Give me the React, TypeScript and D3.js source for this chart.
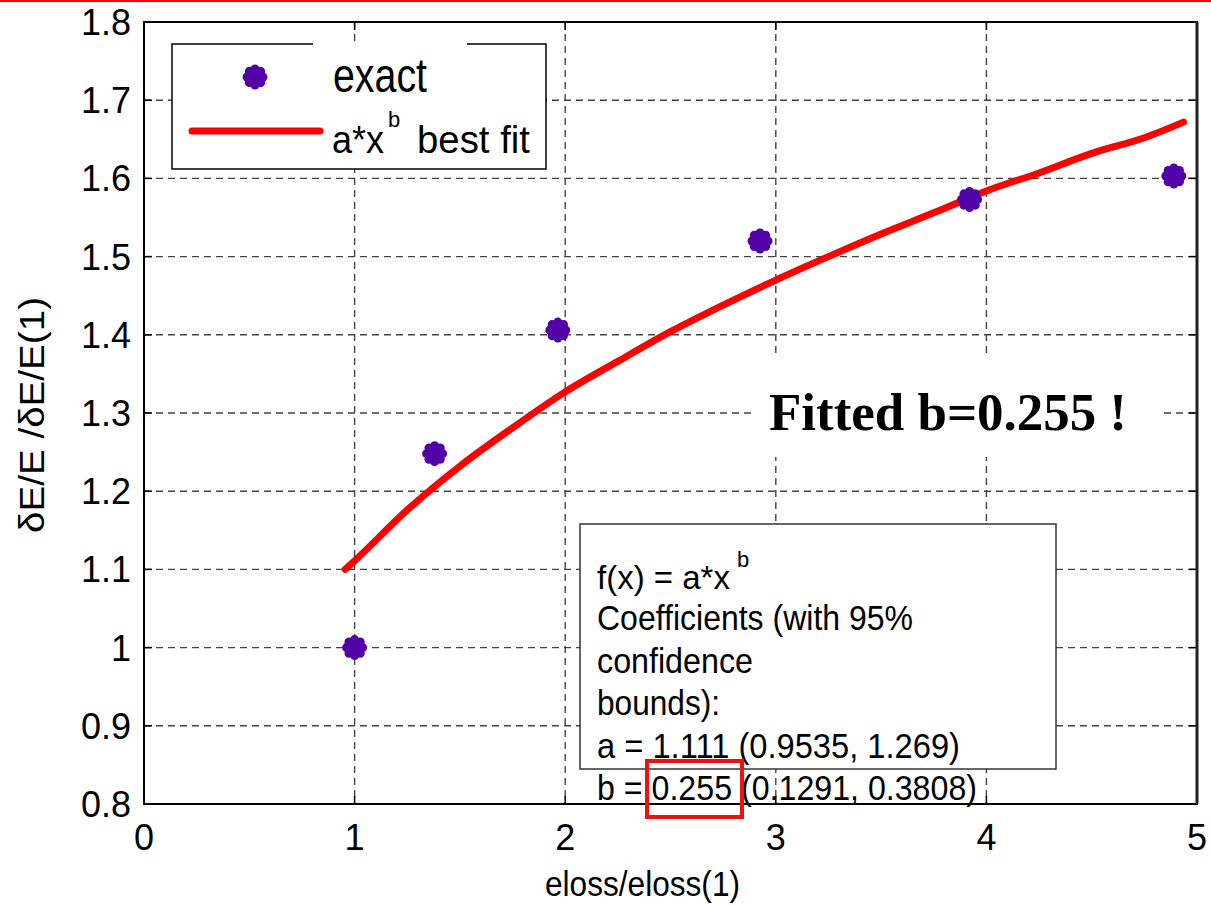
import React, { useEffect, useRef } from "react"
import * as d3 from "d3"

// measured "exact" points
const exactX = [1, 1.38, 1.965, 2.925, 3.92, 4.89]
const exactY = [1.0, 1.248, 1.406, 1.52, 1.573, 1.603]

// points
const fitX = [0.955, 1.0, 1.25, 1.5, 1.75, 2.0, 2.25, 2.5, 2.75, 3.0, 3.25, 3.5, 3.75, 4.0, 4.25, 4.5, 4.75, 4.936]
const fitY = [1.1, 1.111, 1.176, 1.232, 1.281, 1.327, 1.366, 1.404, 1.438, 1.47, 1.5, 1.529, 1.556, 1.584, 1.607, 1.632, 1.652, 1.672]

const xTicks = [0, 1, 2, 3, 4, 5]
const yTicks = [0.8, 0.9, 1, 1.1, 1.2, 1.3, 1.4, 1.5, 1.6, 1.7, 1.8]

const fitLines = [
  "Coefficients (with 95%",
  "confidence",
  "bounds):",
  "a = 1.111 (0.9535, 1.269)",
  "b = 0.255 (0.1291, 0.3808)",
]
const fitLineWidths = [316, 156, 123, 363, 380]

const W = 1211
const H = 905
const SANS = "'Liberation Sans', Arial, sans-serif"
const PURPLE = "#5200a8"

const App = () => {
  const ref = useRef<SVGSVGElement>(null)

  useEffect(() => {
    const svg = d3.select(ref.current)
    svg.selectAll("*").remove()

    const x = d3.scaleLinear().domain([0, 5]).range([144, 1197])
    const y = d3.scaleLinear().domain([0.8, 1.8]).range([804, 22])
    const [x0, x1] = x.range()
    const [y0, y1] = y.range()

    // red rule at the very top of the slide
    svg.append("rect").attr("x", 0).attr("y", 0).attr("width", W).attr("height", 2).attr("fill", "#ff0000")

    // grid
    const grid = svg.append("g").attr("stroke", "#444").attr("stroke-width", 1.4).attr("stroke-dasharray", "7,5")
    grid.selectAll(".gx").data(xTicks.slice(1, -1)).join("line")
      .attr("x1", d => x(d)).attr("x2", d => x(d)).attr("y1", y1).attr("y2", y0)
    grid.selectAll(".gy").data(yTicks.slice(1, -1)).join("line")
      .attr("x1", x0).attr("x2", x1).attr("y1", d => y(d)).attr("y2", d => y(d))

    // inward ticks on all sides
    const ticks = svg.append("g").attr("stroke", "#000").attr("stroke-width", 1.5)
    xTicks.forEach(t => {
      ticks.append("line").attr("x1", x(t)).attr("x2", x(t)).attr("y1", y0).attr("y2", y0 - 8)
      ticks.append("line").attr("x1", x(t)).attr("x2", x(t)).attr("y1", y1).attr("y2", y1 + 8)
    })
    yTicks.forEach(t => {
      ticks.append("line").attr("x1", x0).attr("x2", x0 + 8).attr("y1", y(t)).attr("y2", y(t))
      ticks.append("line").attr("x1", x1).attr("x2", x1 - 8).attr("y1", y(t)).attr("y2", y(t))
    })

    // axes box
    svg.append("rect").attr("x", x0).attr("y", y1).attr("width", x1 - x0).attr("height", y0 - y1)
      .attr("fill", "none").attr("stroke", "#000").attr("stroke-width", 2)
    svg.append("line").attr("x1", x1).attr("x2", x1).attr("y1", y1).attr("y2", y0)
      .attr("stroke", "#222").attr("stroke-width", 3)

    // tick labels
    svg.append("g").selectAll("text").data(yTicks).join("text")
      .attr("x", 131).attr("y", d => y(d) + 13).attr("text-anchor", "end")
      .attr("font-family", SANS).attr("font-size", 36).text(d => String(d))
    svg.append("g").selectAll("text").data(xTicks).join("text")
      .attr("x", d => x(d)).attr("y", 850).attr("text-anchor", "middle")
      .attr("font-family", SANS).attr("font-size", 36).text(d => String(d))

    // axis titles
    svg.append("text").attr("x", 545).attr("y", 896).attr("font-family", SANS).attr("font-size", 35)
      .attr("textLength", 195).attr("lengthAdjust", "spacingAndGlyphs").text("eloss/eloss(1)")
    svg.append("text").attr("transform", "translate(44,533) rotate(-90)")
      .attr("font-family", SANS).attr("font-size", 35)
      .attr("textLength", 236).attr("lengthAdjust", "spacingAndGlyphs").text("δE/E /δE/E(1)")

    // white patch behind the big note
    svg.append("rect").attr("x", 752).attr("y", 358).attr("width", 411).attr("height", 99).attr("fill", "#fff")
    svg.append("text").attr("x", 769).attr("y", 430)
      .attr("font-family", "'Liberation Serif', 'Times New Roman', serif").attr("font-weight", "bold")
      .attr("font-size", 53).attr("textLength", 358).attr("lengthAdjust", "spacingAndGlyphs")
      .text("Fitted b=0.255 !")

    // fit result text box
    svg.append("rect").attr("x", 580).attr("y", 524).attr("width", 476).attr("height", 245)
      .attr("fill", "#fff").attr("stroke", "#333").attr("stroke-width", 1.5)
    svg.append("text").attr("x", 597).attr("y", 589).attr("font-family", SANS).attr("font-size", 33)
      .text("f(x) = a*x")
    svg.append("text").attr("x", 737).attr("y", 567).attr("font-family", SANS).attr("font-size", 22).text("b")
    svg.append("g").selectAll("text").data(fitLines).join("text")
      .attr("x", 597).attr("y", (d, i) => 630 + i * 42.5)
      .attr("font-family", SANS).attr("font-size", 35)
      .attr("textLength", (d, i) => fitLineWidths[i]).attr("lengthAdjust", "spacingAndGlyphs")
      .text(d => d)

    // legend
    const lg = svg.append("g")
    lg.append("rect").attr("x", 172).attr("y", 44).attr("width", 374).attr("height", 125).attr("fill", "#fff")
    lg.append("path")
      .attr("d", "M313,44 H172 V169 H546 V44 H467")
      .attr("fill", "none").attr("stroke", "#000").attr("stroke-width", 1.5)
    lg.append("text").attr("x", 333).attr("y", 92).attr("font-family", SANS).attr("font-size", 48)
      .attr("textLength", 94).attr("lengthAdjust", "spacingAndGlyphs").text("exact")
    lg.append("line").attr("x1", 192).attr("x2", 320).attr("y1", 131).attr("y2", 131)
      .attr("stroke", "#ff0000").attr("stroke-width", 7).attr("stroke-linecap", "round")
    const lt = lg.append("text").attr("x", 332).attr("y", 153).attr("font-family", SANS).attr("font-size", 38)
    lt.append("tspan").attr("textLength", 52).attr("lengthAdjust", "spacingAndGlyphs").text("a*x")
    lt.append("tspan").attr("dx", 4).attr("dy", -26).attr("font-size", 22).text("b")
    lt.append("tspan").attr("x", 417).attr("dy", 26).attr("textLength", 113)
      .attr("lengthAdjust", "spacingAndGlyphs").text("best fit")

    const star = (g: any, cx: number, cy: number) => {
      const s = g.append("g").attr("transform", `translate(${cx},${cy})`)
      ;[0, 45, 90, 135].forEach(a => {
        s.append("line").attr("x1", -8).attr("x2", 8).attr("y1", 0).attr("y2", 0)
          .attr("transform", `rotate(${a})`)
          .attr("stroke", PURPLE).attr("stroke-width", 9).attr("stroke-linecap", "round")
      })
      s.append("circle").attr("r", 7).attr("fill", PURPLE)
    }
    star(lg, 255, 77)

    // best-fit curve
    const fitData = fitX.map((v, i) => [v, fitY[i]] as [number, number])
    const line = d3.line<[number, number]>().x(d => x(d[0])).y(d => y(d[1])).curve(d3.curveMonotoneX)
    svg.append("path").datum(fitData).attr("d", line)
      .attr("fill", "none").attr("stroke", "#ff0000").attr("stroke-width", 7)
      .attr("stroke-linecap", "round").attr("stroke-linejoin", "round")

    // exact points
    const pts = svg.append("g")
    exactX.forEach((v, i) => star(pts, x(v), y(exactY[i])))

    // highlight on the b value
    svg.append("rect").attr("x", 647).attr("y", 761).attr("width", 95).attr("height", 56)
      .attr("fill", "none").attr("stroke", "#ee1111").attr("stroke-width", 4)
  }, [])

  return (
    <svg ref={ref} width={W} height={H}
      style={{ position: "absolute", left: 0, top: 0, display: "block", background: "#fff" }} />
  )
}

export default App
